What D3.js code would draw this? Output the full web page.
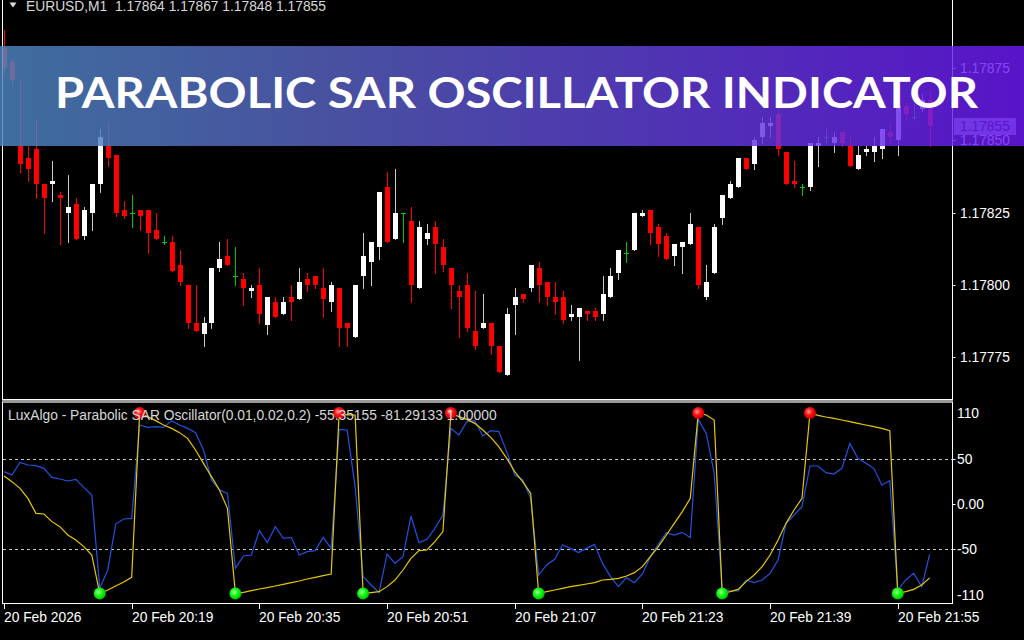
<!DOCTYPE html>
<html><head><meta charset="utf-8">
<script src="https://cdn.jsdelivr.net/npm/d3@7"></script>
<style>html,body{margin:0;padding:0;background:#000;overflow:hidden}</style>
</head><body><svg id="c" width="1024" height="640"></svg>
<script>
// ---------- DATA ----------
const symbolHeader = "EURUSD,M1  1.17864 1.17867 1.17848 1.17855";
const oscLabel = "LuxAlgo - Parabolic SAR Oscillator(0.01,0.02,0.2) -55.35155 -81.29133 1.00000";
const bannerTitle = "PARABOLIC SAR OSCILLATOR INDICATOR";
const startTime = "2026-02-20T20:03:00";

const openP = [1.17882,1.17877,1.17848,1.17844,1.17847,1.17835,1.17835,1.17831,1.17825,1.17828,
1.17817,1.17825,1.17835,1.17848,1.17845,1.17826,1.17825,1.17826,1.17826,1.17819,
1.17815,1.17815,1.17807,1.17800,1.17787,1.17783,1.17787,1.17806,1.17810,1.17803,
1.17802,1.17798,1.17800,1.17786,1.17794,1.17790,1.17796,1.17795,1.17802,1.17803,
1.17799,1.17794,1.17799,1.17787,1.17782,1.17803,1.17808,1.17813,1.17834,1.17816,
1.17825,1.17822,1.17799,1.17816,1.17820,1.17813,1.17806,1.17798,1.17800,1.17784,
1.17785,1.17787,1.17779,1.17769,1.17793,1.17797,1.17799,1.17806,1.17801,1.17796,
1.17796,1.17789,1.17789,1.17791,1.17791,1.17790,1.17796,1.17804,1.17811,1.17812,
1.17824,1.17826,1.17820,1.17817,1.17810,1.17813,1.17814,1.17820,1.17796,1.17804,
1.17823,1.17830,1.17834,1.17844,1.17842,1.17851,1.17855,1.17859,1.17846,1.17836,
1.17834,1.17834,1.17848,1.17851,1.17849,1.17853,1.17848,1.17840,1.17846,1.17846,
1.17847,1.17853,1.17850,1.17862,1.17858,1.17861,1.17864];
const highP = [1.17888,1.17878,1.17871,1.17848,1.17857,1.17835,1.17843,1.17832,1.17838,1.17830,
1.17827,1.17835,1.17854,1.17856,1.17845,1.17829,1.17831,1.17826,1.17826,1.17825,
1.17817,1.17817,1.17812,1.17800,1.17800,1.17789,1.17806,1.17815,1.17816,1.17813,
1.17804,1.17800,1.17806,1.17796,1.17796,1.17796,1.17800,1.17806,1.17804,1.17803,
1.17806,1.17801,1.17799,1.17787,1.17800,1.17818,1.17815,1.17832,1.17839,1.17840,
1.17825,1.17827,1.17822,1.17821,1.17822,1.17816,1.17806,1.17800,1.17804,1.17798,
1.17797,1.17787,1.17779,1.17792,1.17799,1.17797,1.17807,1.17808,1.17801,1.17801,
1.17798,1.17793,1.17792,1.17791,1.17792,1.17803,1.17806,1.17812,1.17815,1.17825,
1.17826,1.17826,1.17821,1.17818,1.17814,1.17815,1.17825,1.17820,1.17807,1.17821,
1.17831,1.17836,1.17844,1.17844,1.17851,1.17858,1.17858,1.17861,1.17846,1.17843,
1.17835,1.17849,1.17851,1.17854,1.17853,1.17853,1.17851,1.17848,1.17848,1.17851,
1.17854,1.17856,1.17864,1.17863,1.17863,1.17866,1.17867];
const lowP = [1.17873,1.17869,1.17839,1.17836,1.17830,1.17818,1.17829,1.17814,1.17815,1.17816,
1.17816,1.17819,1.17832,1.17841,1.17824,1.17823,1.17820,1.17819,1.17811,1.17816,
1.17814,1.17805,1.17800,1.17785,1.17784,1.17779,1.17785,1.17805,1.17807,1.17800,
1.17793,1.17796,1.17787,1.17783,1.17789,1.17790,1.17788,1.17795,1.17798,1.17799,
1.17789,1.17791,1.17779,1.17779,1.17782,1.17799,1.17800,1.17809,1.17815,1.17816,
1.17815,1.17794,1.17799,1.17814,1.17804,1.17805,1.17792,1.17782,1.17784,1.17778,
1.17785,1.17776,1.17770,1.17769,1.17783,1.17794,1.17798,1.17794,1.17793,1.17790,
1.17787,1.17788,1.17774,1.17788,1.17788,1.17788,1.17796,1.17802,1.17808,1.17812,
1.17824,1.17814,1.17810,1.17809,1.17807,1.17804,1.17814,1.17799,1.17795,1.17804,
1.17821,1.17830,1.17834,1.17840,1.17840,1.17849,1.17851,1.17845,1.17835,1.17834,
1.17831,1.17833,1.17841,1.17849,1.17846,1.17848,1.17841,1.17840,1.17845,1.17843,
1.17844,1.17849,1.17845,1.17857,1.17857,1.17860,1.17848];
const closeP = [1.17875,1.17871,1.17842,1.17840,1.17835,1.17830,1.17836,1.17830,1.17827,1.17816,
1.17826,1.17835,1.17851,1.17844,1.17825,1.17824,1.17825,1.17824,1.17818,1.17816,
1.17815,1.17805,1.17801,1.17787,1.17784,1.17787,1.17806,1.17809,1.17807,1.17803,
1.17799,1.17799,1.17790,1.17796,1.17789,1.17794,1.17794,1.17801,1.17800,1.17800,
1.17795,1.17800,1.17785,1.17785,1.17800,1.17810,1.17815,1.17832,1.17815,1.17825,
1.17825,1.17800,1.17820,1.17818,1.17814,1.17807,1.17800,1.17796,1.17785,1.17779,
1.17787,1.17779,1.17770,1.17790,1.17796,1.17795,1.17807,1.17800,1.17796,1.17794,
1.17788,1.17790,1.17792,1.17790,1.17789,1.17797,1.17803,1.17812,1.17811,1.17825,
1.17825,1.17818,1.17814,1.17809,1.17814,1.17815,1.17821,1.17800,1.17801,1.17820,
1.17831,1.17835,1.17844,1.17840,1.17850,1.17856,1.17856,1.17847,1.17835,1.17835,
1.17834,1.17849,1.17849,1.17851,1.17851,1.17849,1.17841,1.17845,1.17847,1.17848,
1.17854,1.17851,1.17862,1.17859,1.17858,1.17864,1.17855];

const blueOsc = [35.6,31.9,45.8,42.9,42.2,39.2,29.3,27.5,25.3,27.1,
18.3,9.9,-92.8,-72.6,-22.0,-16.5,-15.8,86.9,84.3,85.1,
84.3,91.7,86.9,83.2,78.5,59.4,26.4,15.4,11.7,-70.8,
-57.2,-56.1,-29.3,-42.5,-24.9,-37.8,-36.7,-56.1,-52.4,-51.3,
-36.7,-48.8,82.1,81.4,19.1,-79.9,-89.1,-97.5,-55.0,-65.3,
-57.9,-13.2,-42.5,-38.9,-26.8,-12.1,83.2,75.9,90.6,91.7,
74.8,80.7,79.6,57.6,31.9,26.4,6.2,-78.1,-67.1,-60.9,
-45.1,-48.8,-53.5,-48.8,-44.4,-65.3,-79.9,-90.9,-81.0,-86.5,
-77.0,-57.9,-44.0,-31.5,-34.1,-31.2,-37.0,93.1,77.7,33.7,
-94.6,-95.7,-95.7,-83.6,-86.5,-83.6,-76.3,-61.6,-21.3,-12.1,
-2.9,41.8,41.8,34.5,33.0,39.2,66.7,50.2,44.7,39.2,
20.9,25.7,-94.6,-83.6,-76.3,-90.9,-55.35];
const yellowOsc = [30.8,24.6,17.2,6.2,-10.3,-11.0,-19.4,-24.9,-34.1,-39.6,
-46.9,-56.1,-98.5,-94.6,-90.2,-85.8,-80.7,100.0,96.1,91.7,
86.9,83.2,78.5,72.2,59.4,44.7,30.1,15.4,-4.8,-98.5,
-97.2,-95.3,-93.5,-92.0,-90.2,-88.4,-86.5,-84.7,-82.5,-80.7,
-78.8,-77.0,100.0,98.0,97.9,-98.5,-97.5,-96.4,-90.9,-83.6,
-72.6,-59.8,-51.3,-50.6,-41.4,-30.4,100.0,96.1,93.1,88.7,
81.4,73.3,63.1,50.2,35.6,24.6,11.7,-98.5,-96.4,-94.6,
-92.8,-90.9,-89.5,-88.0,-86.5,-83.6,-82.9,-81.8,-79.2,-75.5,
-68.9,-57.9,-46.9,-34.1,-21.3,-8.4,6.2,100.0,97.9,92.4,
-98.5,-96.4,-93.9,-85.4,-78.1,-68.9,-56.1,-39.6,-21.3,-6.6,
6.2,100.0,97.5,95.7,94.2,92.4,90.6,88.7,86.9,85.1,
83.2,80.7,-98.5,-96.4,-93.9,-89.1,-81.29];

const sarTopIdx = [17,42,56,87,101];
const sarBottomIdx = [12,29,45,67,90,112];
const priceTicks = [1.17875,1.17850,1.17825,1.17800,1.17775];
const currentPrice = 1.17855;
const oscTicks = [110,50,0,-50,-110];
const oscTickLabels = ["110","50","0.00","-50","-110"];
const oscLevels = [50,-50];
const timeTickIdx = [0,16,32,48,64,80,96,112];
const timeTickLabels = ["20 Feb 2026","20 Feb 20:19","20 Feb 20:35","20 Feb 20:51","20 Feb 21:07","20 Feb 21:23","20 Feb 21:39","20 Feb 21:55"];

// ---------- LAYOUT ----------
const svg = d3.select("#c");
const FONT = "'Liberation Sans', Arial, sans-serif";
const axisX = 952.5;
const t0 = new Date(startTime);
const times = openP.map((_, i) => d3.timeMinute.offset(t0, i));
const x = d3.scaleTime().domain([times[0], times[times.length-1]]).range([4, 4 + 7.98*(times.length-1)]);
const yP = d3.scaleLinear().domain([1.1776023, 1.1789854]).range([400, 0]);
const yO = d3.scaleLinear().domain([-110, 110]).range([604, 404]);

const defs = svg.append("defs");
const bg = defs.append("linearGradient").attr("id","bn").attr("x1","0").attr("x2","1").attr("y1","0").attr("y2","0");
bg.append("stop").attr("offset","0").attr("stop-color","rgb(77,134,193)");
bg.append("stop").attr("offset","0.33").attr("stop-color","rgb(88,98,195)");
bg.append("stop").attr("offset","1").attr("stop-color","rgb(107,24,244)");
function ball(id, c0, c1, c2){
  const g = defs.append("radialGradient").attr("id",id).attr("cx","0.4").attr("cy","0.38").attr("r","0.65");
  g.append("stop").attr("offset","0").attr("stop-color",c0);
  g.append("stop").attr("offset","0.45").attr("stop-color",c1);
  g.append("stop").attr("offset","1").attr("stop-color",c2);
}
ball("rb","#ff9a9a","#ff1010","#c00000");
ball("gb","#a8ffa8","#10ff10","#00b800");

svg.append("rect").attr("width",1024).attr("height",640).attr("fill","#000");

// ---------- PRICE PANEL ----------
const cp = svg.append("g");
const px = i => Math.round(x(times[i]));
openP.forEach((o, i) => {
  const c = closeP[i], h = highP[i], l = lowP[i];
  const cx = px(i);
  const bull = c > o, doji = c === o;
  const col = doji ? "#00c800" : (bull ? "#ffffff" : "#ff0000");
  const wickCol = doji ? "#00c800" : (bull ? "#c8c8c8" : "#ff0000");
  cp.append("line").attr("x1",cx+0.5).attr("x2",cx+0.5)
    .attr("y1",Math.round(yP(h))).attr("y2",Math.round(yP(l))+1)
    .attr("stroke",wickCol).attr("stroke-width",1);
  if (doji) {
    cp.append("line").attr("x1",cx-2).attr("x2",cx+3)
      .attr("y1",Math.round(yP(c))+0.5).attr("y2",Math.round(yP(c))+0.5)
      .attr("stroke",col).attr("stroke-width",1);
  } else {
    const yt = Math.round(yP(Math.max(o,c))), yb = Math.round(yP(Math.min(o,c)));
    cp.append("rect").attr("x",cx-2).attr("y",yt).attr("width",5).attr("height",Math.max(1,yb-yt))
      .attr("fill",col);
  }
});

// price axis
svg.append("line").attr("x1",axisX).attr("x2",axisX).attr("y1",0).attr("y2",400).attr("stroke","#fff");
svg.append("line").attr("x1",2.5).attr("x2",2.5).attr("y1",0).attr("y2",400).attr("stroke","#fff");
svg.append("line").attr("x1",2).attr("x2",axisX).attr("y1",399.5).attr("y2",399.5).attr("stroke","#fff");
priceTicks.forEach(p => {
  const yy = Math.round(yP(p));
  svg.append("line").attr("x1",axisX).attr("x2",axisX+3).attr("y1",yy+0.5).attr("y2",yy+0.5).attr("stroke","#fff");
  svg.append("text").attr("x",960).attr("y",yy+5).attr("fill","#fff")
    .attr("font-family",FONT).attr("font-size","13.8px").text(p.toFixed(5));
});
// current price label
const cpy = Math.round(yP(currentPrice));
svg.append("rect").attr("x",954).attr("y",cpy-8).attr("width",62).attr("height",17).attr("fill","#9aa4b0");
svg.append("text").attr("x",960).attr("y",cpy+5).attr("fill","#000")
  .attr("font-family",FONT).attr("font-size","13.8px").text(currentPrice.toFixed(5));

// header
svg.append("path").attr("d","M9.5,2.5 L16.5,2.5 L13,7.5 Z").attr("fill","#e0e0e0");
svg.append("text").attr("x",26).attr("y",10.5).attr("fill","#d8d8d8")
  .attr("font-family",FONT).attr("font-size","13.8px").attr("xml:space","preserve").style("white-space","pre").text(symbolHeader);

// ---------- OSC PANEL ----------
svg.append("rect").attr("x",2).attr("y",400).attr("width",951).attr("height",3).attr("fill","#9a9a9a");
svg.append("line").attr("x1",2.5).attr("x2",2.5).attr("y1",402).attr("y2",604).attr("stroke","#fff");
svg.append("line").attr("x1",axisX).attr("x2",axisX).attr("y1",402).attr("y2",604).attr("stroke","#fff");
svg.append("line").attr("x1",2).attr("x2",axisX+0.5).attr("y1",603.5).attr("y2",603.5).attr("stroke","#fff");

oscLevels.forEach(v => {
  svg.append("line").attr("x1",3).attr("x2",axisX).attr("y1",Math.round(yO(v))+0.5).attr("y2",Math.round(yO(v))+0.5)
    .attr("stroke","#c8c8c8").attr("stroke-dasharray","3,3");
});
oscTicks.forEach((v, k) => {
  const yy = Math.round(yO(v));
  const ly = Math.min(Math.max(yy, 413), 595);
  if (v < 110 && v > -110)
    svg.append("line").attr("x1",axisX).attr("x2",axisX+3).attr("y1",yy+0.5).attr("y2",yy+0.5).attr("stroke","#fff");
  svg.append("text").attr("x",957).attr("y",ly+5).attr("fill","#fff")
    .attr("font-family",FONT).attr("font-size","13.8px").text(oscTickLabels[k]);
});

const lineGen = d3.line().x((d,i) => x(times[i])).y(d => yO(d));
svg.append("path").datum(blueOsc).attr("d",lineGen).attr("fill","none").attr("stroke","#2352e0").attr("stroke-width",1.2);
svg.append("path").datum(yellowOsc).attr("d",lineGen).attr("fill","none").attr("stroke","#e8c800").attr("stroke-width",1.2);

sarTopIdx.forEach(i => {
  svg.append("circle").attr("cx",x(times[i])).attr("cy",yO(yellowOsc[i])).attr("r",6).attr("fill","url(#rb)");
});
sarBottomIdx.forEach(i => {
  svg.append("circle").attr("cx",x(times[i])).attr("cy",yO(yellowOsc[i])).attr("r",6).attr("fill","url(#gb)");
});

svg.append("text").attr("x",8).attr("y",420).attr("fill","#d8d8d8")
  .attr("font-family",FONT).attr("font-size","13.8px").text(oscLabel);

// time axis
timeTickIdx.forEach((i, k) => {
  const tx = px(i);
  svg.append("line").attr("x1",tx+0.5).attr("x2",tx+0.5).attr("y1",604).attr("y2",609).attr("stroke","#fff");
  svg.append("text").attr("x",tx).attr("y",622).attr("fill","#fff")
    .attr("font-family",FONT).attr("font-size","13.8px").text(timeTickLabels[k]);
});

// ---------- BANNER ----------
svg.append("rect").attr("x",0).attr("y",46).attr("width",1024).attr("height",100)
  .attr("fill","url(#bn)").attr("opacity",0.82);
svg.append("text").attr("x",55).attr("y",108).attr("fill","#fff")
  .attr("font-family","Lato, 'Open Sans', sans-serif").attr("font-weight",700).attr("font-size","42px")
  .attr("textLength",923).attr("lengthAdjust","spacingAndGlyphs").text(bannerTitle);
</script></body></html>
